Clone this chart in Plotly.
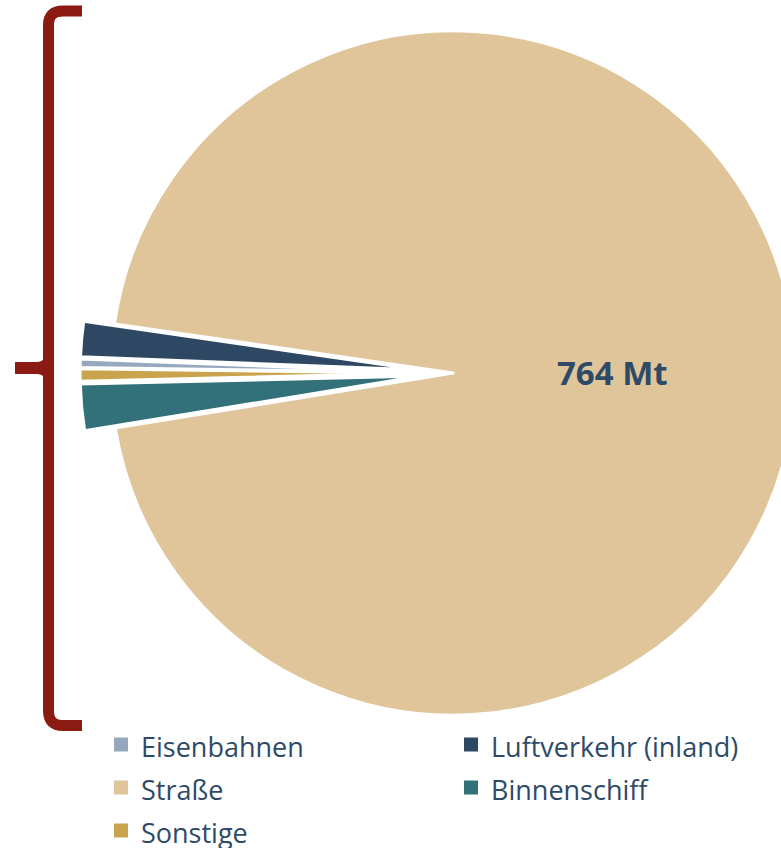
import plotly.graph_objects as go

# ---- data ----
labels = ["Eisenbahnen", "Luftverkehr (inland)", "Straße", "Binnenschiff", "Sonstige"]
values = [3.3, 13.4, 764, 17.6, 4.7]
colors = ["#95A8BD", "#2E4863", "#E0C59A", "#32717A", "#C9A44C"]
pulls = [0.09, 0.09, 0.0, 0.09, 0.09]
unit = "Mt"

# ---- canvas (wider/taller than the window; overflow is clipped like the reference) ----
W, H = 830, 880
TEXT = "#2E4A67"
RED = "#8B1A12"


def px(x):
    return x / W


def py(y):
    return 1 - y / H


fig = go.Figure()

# visible pie
fig.add_trace(go.Pie(
    labels=labels,
    values=values,
    sort=False,
    direction="clockwise",
    rotation=270.75,
    pull=pulls,
    marker=dict(colors=colors, line=dict(color="white", width=3.2)),
    textinfo="none",
    hoverinfo="label+value",
    showlegend=False,
    domain=dict(x=[px(80), px(826)], y=[py(746), 1]),
))

# legend-only pie (drawn tiny outside the visible window, bottom-right)
fig.add_trace(go.Pie(
    labels=[f'<span style="font-size:27px">{l}</span>' for l in labels],
    values=values,
    sort=False,
    direction="clockwise",
    marker=dict(colors=colors, line=dict(color=colors, width=2)),
    textinfo="none",
    hoverinfo="skip",
    showlegend=True,
    domain=dict(x=[0.99, 1.0], y=[0.0, 0.01]),
))

# label on the big slice
fig.add_annotation(
    x=px(612), y=py(372), xref="paper", yref="paper",
    text=f"{values[2]:.0f} {unit}", showarrow=False,
    font=dict(family="Open Sans", size=33, color=TEXT, weight=700),
    xanchor="center", yanchor="middle",
)

# curly bracket on the left
def P(x, y):
    return f"{px(x)},{py(y)}"

brace = (f"M {P(82, 11)} L {P(63, 11)} Q {P(48.5, 11)} {P(48.5, 25)} "
         f"L {P(48.5, 711)} Q {P(48.5, 725.5)} {P(63, 725.5)} L {P(82, 725.5)}")
fig.add_shape(type="path", path=brace, xref="paper", yref="paper",
              line=dict(color=RED, width=11), fillcolor="rgba(0,0,0,0)", layer="above")
nub = (f"M {P(15, 362)} L {P(37, 362)} Q {P(44, 362)} {P(46, 355)} "
       f"L {P(46, 381)} Q {P(44, 374)} {P(37, 374)} L {P(15, 374)} Z")
fig.add_shape(type="path", path=nub, xref="paper", yref="paper",
              line=dict(width=0), fillcolor=RED, layer="above")

fig.update_layout(
    width=W, height=H,
    margin=dict(l=0, r=0, t=0, b=0),
    paper_bgcolor="white",
    plot_bgcolor="white",
    legend=dict(
        orientation="h",
        x=px(101), y=py(718), xanchor="left", yanchor="top",
        entrywidth=305, entrywidthmode="pixels",
        font=dict(family="Open Sans", size=30.8, color=TEXT),
        bgcolor="rgba(0,0,0,0)",
        itemclick=False, itemdoubleclick=False,
    ),
)

fig.write_html(
    "out.html",
    config={"displayModeBar": False},
    post_script="document.body.style.margin='0';document.body.style.overflow='hidden';"
                "document.documentElement.style.overflow='hidden';",
)
